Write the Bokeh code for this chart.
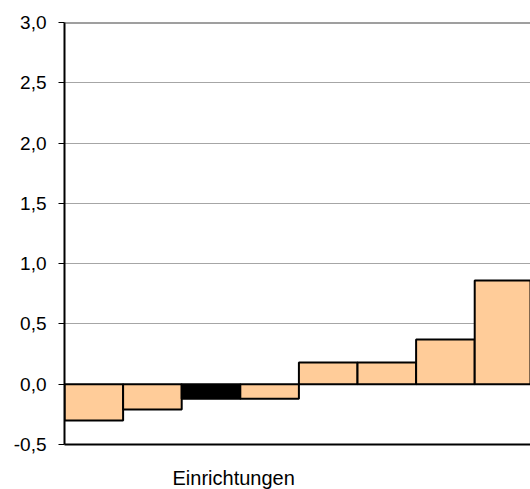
from bokeh.plotting import figure
from bokeh.models import (Range1d, FixedTicker, CustomJSTickFormatter, Span, Title,
                          ColumnDataSource, LinearAxis)
from bokeh.embed import file_html
from bokeh.resources import INLINE

# Data
categories = [0, 1, 2, 3, 4, 5, 6, 7]
values = [-0.30, -0.21, -0.12, -0.12, 0.18, 0.18, 0.37, 0.86]
colors = ["#FFCC99", "#FFCC99", "#000000", "#FFCC99", "#FFCC99", "#FFCC99", "#FFCC99", "#FFCC99"]
y_ticks = [-0.5, 0.0, 0.5, 1.0, 1.5, 2.0, 2.5, 3.0]
x_label = "Einrichtungen"

FONT = "Liberation Sans"

p = figure(width=530, height=489, output_backend="svg", toolbar_location=None,
           x_range=Range1d(-0.5, 7.452), y_range=Range1d(-0.5, 3.0),
           min_border_left=64, min_border_right=0, min_border_top=22, min_border_bottom=45,
           x_axis_location=None, y_axis_location=None)
p.outline_line_color = None
p.background_fill_color = "white"
p.border_fill_color = "white"

# grid
p.ygrid.ticker = FixedTicker(ticks=y_ticks[:-1])
p.ygrid.grid_line_color = "#a6a6a6"
p.ygrid.grid_line_width = 1
p.xgrid.grid_line_color = None

src = ColumnDataSource(dict(x=categories, top=values, color=colors))
p.vbar(x="x", top="top", bottom=0, width=1.0, source=src,
       fill_color="color", line_color="black", line_width=2)

# top line at 3.0
p.add_layout(Span(location=3.0, dimension="width", line_color="#404040", line_width=2))

yaxis = LinearAxis(ticker=FixedTicker(ticks=y_ticks))
yaxis.formatter = CustomJSTickFormatter(code="return tick.toFixed(1).replace('.', ',');")
yaxis.axis_line_color = "black"
yaxis.axis_line_width = 2
yaxis.major_tick_line_color = "black"
yaxis.major_tick_line_width = 1
yaxis.major_tick_out = 6
yaxis.major_tick_in = 0
yaxis.minor_tick_line_color = None
yaxis.major_label_text_font = FONT
yaxis.major_label_text_font_size = "19px"
yaxis.major_label_text_color = "black"
yaxis.major_label_standoff = 12
p.add_layout(yaxis, "left")

xaxis = LinearAxis(ticker=FixedTicker(ticks=[]))
xaxis.axis_line_color = "black"
xaxis.axis_line_width = 2
xaxis.major_tick_line_color = None
xaxis.major_tick_out = 0
xaxis.major_tick_in = 0
xaxis.minor_tick_line_color = None
xaxis.major_label_standoff = 0
xaxis.major_label_text_font_size = "0px"
p.add_layout(xaxis, "below")

# invisible spacer axis to push the x label down
spacer = LinearAxis(ticker=FixedTicker(ticks=[0]))
spacer.axis_line_color = None
spacer.major_tick_line_color = "white"
spacer.major_tick_line_alpha = 0
spacer.major_tick_out = 20
spacer.major_tick_in = 0
spacer.minor_tick_line_color = None
spacer.major_label_standoff = 0
spacer.major_label_text_font_size = "0px"
spacer.major_label_text_alpha = 0
p.add_layout(spacer, "below")

p.add_layout(Title(text=x_label, align="left", offset=108, standoff=0,
                   text_font=FONT, text_font_size="20px", text_font_style="normal",
                   text_color="black"), "below")

open("out.html", "w").write(file_html(p, INLINE))
